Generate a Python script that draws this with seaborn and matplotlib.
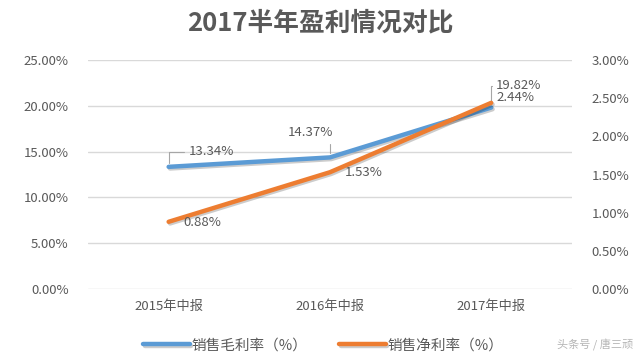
"""2017 half-year profitability comparison chart"""
import matplotlib
matplotlib.use("Agg")
import matplotlib.pyplot as plt
import matplotlib.patheffects as pe
from matplotlib.ticker import FuncFormatter, MultipleLocator
import seaborn as sns
import pandas as pd

# data
periods = ["2015年中报", "2016年中报", "2017年中报"]
gross_margin = [13.34, 14.37, 19.82]   # 销售毛利率, left axis
net_margin = [0.88, 1.53, 2.44]        # 销售净利率, right axis
gross_name = "销售毛利率（%）"
net_name = "销售净利率（%）"
title = "2017半年盈利情况对比"
watermark = "头条号 / 唐三顽"

BLUE = "#5B9BD5"
ORANGE = "#ED7D31"
TEXT = "#595959"
GRID = "#D9D9D9"

sns.set_style("white")
plt.rcParams['font.family'] = ['Noto Sans CJK SC', 'DejaVu Sans']

df = pd.DataFrame({"period": periods, "gross": gross_margin, "net": net_margin})
df["x"] = range(len(df))

fig = plt.figure(figsize=(6.4, 3.58), dpi=100)
ax = fig.add_axes([0.1375, 0.193, 0.756, 0.639])
ax2 = ax.twinx()

shadow = [pe.SimpleLineShadow(offset=(1, -1.2), alpha=0.2, shadow_color="black"), pe.Normal()]
sns.lineplot(data=df, x="x", y="gross", ax=ax, color=BLUE, linewidth=3.2,
             solid_capstyle="round", path_effects=shadow, label=gross_name, legend=False)
sns.lineplot(data=df, x="x", y="net", ax=ax2, color=ORANGE, linewidth=3.2,
             solid_capstyle="round", path_effects=shadow, label=net_name, legend=False)

ax.set_xlim(-0.5, len(periods) - 0.5)
ax.set_ylim(0, 25)
ax2.set_ylim(0, 3)
ax.yaxis.set_major_locator(MultipleLocator(5))
ax2.yaxis.set_major_locator(MultipleLocator(0.5))
pct = FuncFormatter(lambda v, _: f"{v:.2f}%")
ax.yaxis.set_major_formatter(pct)
ax2.yaxis.set_major_formatter(pct)
ax.set_xticks(df["x"])
ax.set_xticklabels(periods)
ax.set_xlabel("")
ax.set_ylabel("")
ax2.set_ylabel("")

ax.grid(axis="y", color=GRID, linewidth=1)
ax.set_axisbelow(True)
for a in (ax, ax2):
    for s in a.spines.values():
        s.set_visible(False)
    a.tick_params(length=0, colors=TEXT, labelsize=9.5)
ax.tick_params(axis="y", pad=14)
ax2.tick_params(axis="y", pad=14)
ax.tick_params(axis="x", pad=8)

# data labels (offsets in pixels); leader lines for the gross margin labels
gross_offsets = [(20, 15), (-19, 25), (5, 22)]
gross_relpos = [(0, 0.5), (0.9, 0.1), (0, 0.5)]
for i, (v, off, rp) in enumerate(zip(gross_margin, gross_offsets, gross_relpos)):
    ha = "center" if off[0] < 0 else "left"
    ax.annotate(f"{v:.2f}%", (i, v), xytext=off, textcoords="offset pixels",
                ha=ha, va="center", fontsize=9.5, color=TEXT,
                arrowprops=dict(arrowstyle="-", color="#A6A6A6", lw=0.8, shrinkA=1,
                                shrinkB=3, relpos=rp, connectionstyle="angle,angleA=180,angleB=90,rad=0"))
net_offsets = [(15, -1), (15, 0), (5, 5)]
for i, (v, off) in enumerate(zip(net_margin, net_offsets)):
    ax2.annotate(f"{v:.2f}%", (i, v), xytext=off, textcoords="offset pixels",
                 ha="left", va="center", fontsize=9.5, color=TEXT)

fig.text(0.5, 0.935, title, ha="center", va="center", fontsize=18.5,
         fontweight="bold", color=TEXT)

handles = [ax.get_lines()[0], ax2.get_lines()[0]]
fig.legend(handles, [gross_name, net_name], loc="center", bbox_to_anchor=(0.505, 0.035),
           ncol=2, frameon=False, fontsize=10.5, handlelength=3.2, handletextpad=0.1,
           columnspacing=2.2, labelcolor=TEXT)

fig.text(0.99, 0.035, watermark, ha="right", va="center", fontsize=8, color="#B5B5B5")

fig.savefig("out.png", dpi=100)
